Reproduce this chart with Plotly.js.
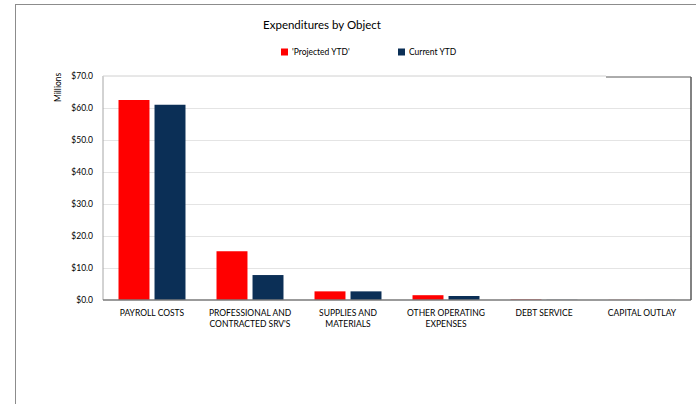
<!DOCTYPE html>
<html>
<head>
<meta charset="utf-8">
<script src="https://cdn.plot.ly/plotly-3.0.1.min.js"></script>
<style>
html,body{margin:0;padding:0;background:#fff;}
#chart{width:696px;height:404px;}
</style>
</head>
<body>
<div id="chart"></div>
<script>
const categories = ["PAYROLL COSTS", "PROFESSIONAL AND<br>CONTRACTED SRV'S", "SUPPLIES AND<br>MATERIALS", "OTHER OPERATING<br>EXPENSES", "DEBT SERVICE", "CAPITAL OUTLAY"];
const projectedYTD = [62.5, 15.2, 2.7, 1.5, 0.15, 0.04];
const currentYTD = [61.0, 7.8, 2.7, 1.25, 0.06, 0.02];
const seriesNames = ["'Projected YTD'", "Current YTD"];
const seriesColors = ['#ff0000', '#0b2f56'];
const yTicks = [0, 10, 20, 30, 40, 50, 60, 70];
const yTickText = yTicks.map(v => '$' + v.toFixed(1));

const FONT = "Lato, 'Open Sans', sans-serif";
const L = 103, R = 5, T = 76, B = 104;
const W = 696, H = 404;
const pw = W - L - R, ph = H - T - B;
function px2x(p){ return (p - L) / pw; }
function py2y(p){ return (H - B - p) / ph; }

const traces = [
  {type:'bar', name: seriesNames[0], x: categories, y: projectedYTD,
   marker:{color:seriesColors[0]}},
  {type:'bar', name: seriesNames[1], x: categories, y: currentYTD,
   marker:{color:seriesColors[1]}}
];

// manual legend (small squares like the reference)
const legendPos = [281, 398];
const legendShapes = seriesNames.map((n, i) => ({
  type:'rect', xref:'paper', yref:'paper',
  x0:px2x(legendPos[i]), x1:px2x(legendPos[i] + 7), y0:py2y(48.5), y1:py2y(55.5),
  fillcolor:seriesColors[i], line:{width:0}
}));
const legendAnn = seriesNames.map((n, i) => ({
  text:n, xref:'paper', yref:'paper', x:px2x(legendPos[i] + 9), y:py2y(52),
  xanchor:'left', yanchor:'middle', showarrow:false,
  font:{family:FONT, size:8.5, color:'#000'}
}));

const layout = {
  width: W, height: H,
  margin:{l:L, r:R, t:T, b:B},
  paper_bgcolor:'#ffffff', plot_bgcolor:'#ffffff',
  font:{family:FONT, size:9, color:'#000000'},
  title:{text:'Expenditures by Object', font:{family:FONT, size:11.5, color:'#000'},
         xref:'container', x:322/W, xanchor:'center', yref:'container', y:1-25/H, yanchor:'middle'},
  barmode:'group', bargap:0.265, bargroupgap:0.14,
  showlegend:false,
  xaxis:{type:'category', showgrid:false, zeroline:false, showline:false, ticks:'',
         ticklabelstandoff:6,
         tickfont:{family:FONT, size:8.5, color:'#000'}, fixedrange:true},
  yaxis:{range:[0,70], tickmode:'array', tickvals:yTicks, ticktext:yTickText,
         showgrid:true, gridcolor:'#e4e4e4', gridwidth:1, zeroline:false, showline:false,
         ticks:'', ticklabelstandoff:9, tickfont:{family:FONT, size:8.5, color:'#000'}, automargin:false},
  annotations:[
    {text:'Millions', xref:'paper', yref:'paper', x:px2x(58), y:py2y(88), textangle:-90,
     showarrow:false, xanchor:'center', yanchor:'middle', font:{family:FONT, size:8.5, color:'#000'}}
  ].concat(legendAnn),
  shapes:[
    // outer frame
    {type:'line', xref:'paper', yref:'paper', x0:px2x(15.5), x1:px2x(15.5), y0:py2y(4), y1:py2y(404), line:{color:'#8c8c8c', width:1}},
    {type:'line', xref:'paper', yref:'paper', x0:px2x(15), x1:px2x(696), y0:py2y(4.5), y1:py2y(4.5), line:{color:'#8c8c8c', width:1}},
    // plot frame
    {type:'line', xref:'paper', yref:'paper', x0:0, x1:0, y0:0, y1:1, line:{color:'#a6a6a6', width:1}},
    {type:'line', xref:'paper', yref:'paper', x0:0, x1:1, y0:0, y1:0, line:{color:'#7a7a7a', width:1.5}},
    {type:'line', xref:'paper', yref:'paper', x0:1, x1:1, y0:0, y1:py2y(77), line:{color:'#595959', width:1.5}},
    {type:'line', xref:'paper', yref:'paper', x0:0, x1:px2x(606), y0:1, y1:1, line:{color:'#d0d0d0', width:1}},
    {type:'line', xref:'paper', yref:'paper', x0:px2x(606), x1:1, y0:py2y(77), y1:py2y(77), line:{color:'#595959', width:1}}
  ].concat(legendShapes)
};

Plotly.newPlot('chart', traces, layout, {displayModeBar:false, staticPlot:true});
</script>
</body>
</html>
